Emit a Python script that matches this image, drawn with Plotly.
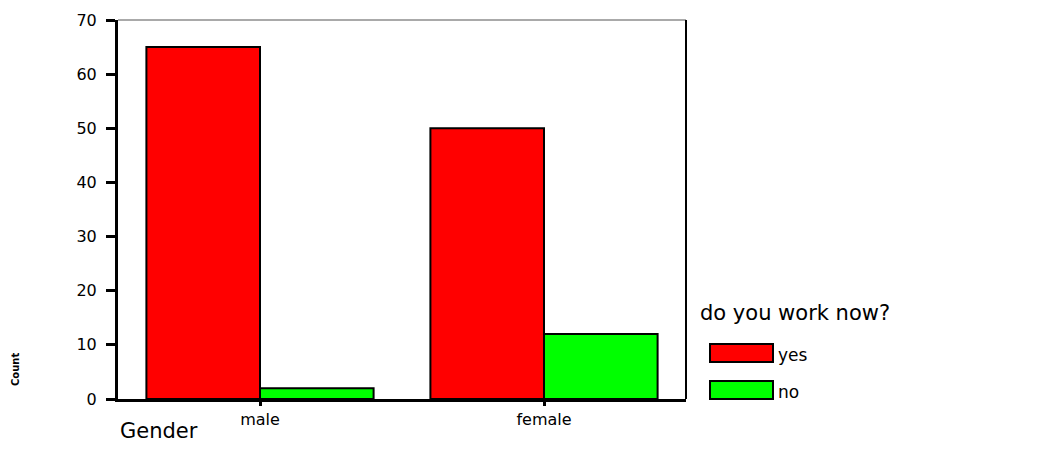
import plotly.graph_objects as go

genders = ["male", "female"]
yes_counts = [65, 50]
no_counts = [2, 12]
y_ticks = [0, 10, 20, 30, 40, 50, 60, 70]
series_names = ["yes", "no"]
series_colors = ["#ff0000", "#00ff00"]

FONT = "DejaVu Sans"
W, H = 1046, 463
OFF = 8  # page body margin shifts the figure
PX0, PX1, PY0, PY1 = 118, 686, 20, 399  # target plot box in window pixels
L, T = PX0 - OFF, PY0 - OFF
PW, PH = PX1 - PX0, PY1 - PY0
R, B = W - L - PW, H - T - PH


def px_x(x):
    return (x - PX0) / PW


def px_y(y):
    return (PY1 - y) / PH


fig = go.Figure()
for name, vals, col in zip(series_names, [yes_counts, no_counts], series_colors):
    fig.add_trace(go.Bar(x=genders, y=vals, name=name, showlegend=False,
                         marker=dict(color=col, line=dict(color="black", width=2))))

fig.update_layout(
    width=W, height=H,
    margin=dict(l=L, r=R, t=T, b=B),
    paper_bgcolor="white", plot_bgcolor="white",
    barmode="group", bargap=0.2, bargroupgap=0,
    font=dict(family=FONT, color="black", size=16),
    showlegend=False,
)
fig.update_xaxes(
    range=[-0.5, 1.5], showgrid=False, zeroline=False, automargin=False,
    showline=True, linecolor="black", linewidth=3,
    ticks="outside", ticklen=4, tickwidth=3, tickcolor="black",
    tickfont=dict(size=16),
)
fig.update_yaxes(
    range=[0, 70], tickvals=y_ticks, showgrid=False, zeroline=False, automargin=False,
    showline=True, linecolor="black", linewidth=3,
    ticks="outside", ticklen=9, tickwidth=3, tickcolor="black",
    tickfont=dict(size=16), ticklabelstandoff=6,
)
# frame: thin gray top, black right
fig.add_shape(type="line", xref="paper", yref="paper", x0=0, x1=1, y0=1, y1=1,
              line=dict(color="#555555", width=1))
fig.add_shape(type="line", xref="paper", yref="paper", x0=1, x1=1, y0=0, y1=1,
              line=dict(color="black", width=2))

# axis titles
fig.add_annotation(text="Gender", xref="paper", yref="paper", x=0, y=px_y(431),
                   xanchor="left", yanchor="middle", showarrow=False,
                   font=dict(size=21))
fig.add_annotation(text="<b>Count</b>", xref="paper", yref="paper", x=px_x(15), y=px_y(370),
                   xanchor="center", yanchor="middle", showarrow=False, textangle=-90,
                   font=dict(size=10))

# legend drawn by hand to match the boxed swatches
fig.add_annotation(text="do you work now?", xref="paper", yref="paper",
                   x=px_x(698), y=px_y(313), xanchor="left", yanchor="middle",
                   showarrow=False, font=dict(size=21))
for i, (name, col) in enumerate(zip(series_names, series_colors)):
    y0 = 344 + i * 37
    fig.add_shape(type="rect", xref="paper", yref="paper",
                  x0=px_x(710), x1=px_x(773), y0=px_y(y0), y1=px_y(y0 + 18),
                  fillcolor=col, line=dict(color="black", width=2))
    fig.add_annotation(text=name, xref="paper", yref="paper",
                       x=px_x(776), y=px_y(y0 + 11), xanchor="left", yanchor="middle",
                       showarrow=False, font=dict(size=17))

fig.write_html("out.html")
